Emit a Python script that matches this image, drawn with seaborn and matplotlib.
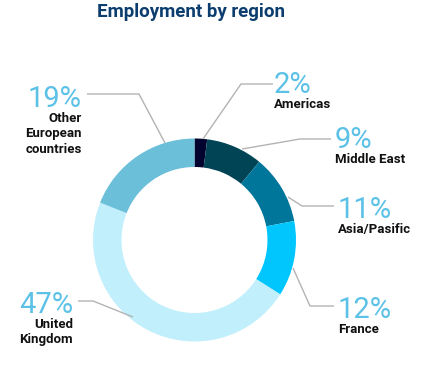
import matplotlib
matplotlib.use('Agg')
import matplotlib.pyplot as plt
import seaborn as sns

# Chart data
regions = ['Americas', 'Middle East', 'Asia/Pasific', 'France', 'United\nKingdom', 'Other\nEuropean\ncountries']
shares = [2, 9, 11, 12, 47, 19]
region_colors = ['#03032f', '#014455', '#00769a', '#00c6fd', '#c2effc', '#6bbfd9']

sns.set_theme(style='white')
plt.rcParams['font.family'] = ['Roboto', 'DejaVu Sans']

W, H = 432, 366
fig = plt.figure(figsize=(W / 100, H / 100), dpi=100)
ax = fig.add_axes([0, 0, 1, 1])


def Y(py):
    # pixel row -> data y
    return H - py


palette = sns.color_palette(region_colors)
ax.pie(shares, colors=palette, startangle=90, counterclock=False,
       center=(194.5, Y(240)), radius=101.5, frame=True,
       wedgeprops=dict(width=28.5, linewidth=0))
ax.set_xlim(0, W)
ax.set_ylim(0, H)
ax.axis('off')

# label layout: (leader path in px, percent pos, align)
layout = [
    ([(203, 139), (241, 84), (273, 84)], (274, 93), 'left'),
    ([(242, 149), (300, 139), (331, 139)], (335, 148), 'left'),
    ([(288, 197), (302, 206), (334, 206)], (338, 218), 'left'),
    ([(293, 268), (310, 306), (334, 306)], (338, 318), 'left'),
    ([(133, 317), (93, 301), (78, 301)], (73, 313), 'right'),
    ([(165, 143), (139, 94), (87, 94)], (82, 107), 'right'),
]

pct_color = '#5bc1e7'
for name, val, (path, (tx, ty), ha) in zip(regions, shares, layout):
    ax.plot([p[0] for p in path], [Y(p[1]) for p in path],
            color='#b3b3b3', lw=1, solid_capstyle='butt')
    ax.text(tx, Y(ty), f'{val}%', ha=ha, va='baseline', fontsize=21,
            color=pct_color, fontweight='normal')
    ax.text(tx, Y(ty + 5), name, ha=ha, va='top', fontsize=9.5,
            color='#111111', fontweight='bold', linespacing=1.25)

ax.text(191, Y(17), 'Employment by region', ha='center', va='baseline',
        fontsize=13.5, fontweight='bold', color='#0c3d6f')

fig.savefig('out.png', dpi=100)
